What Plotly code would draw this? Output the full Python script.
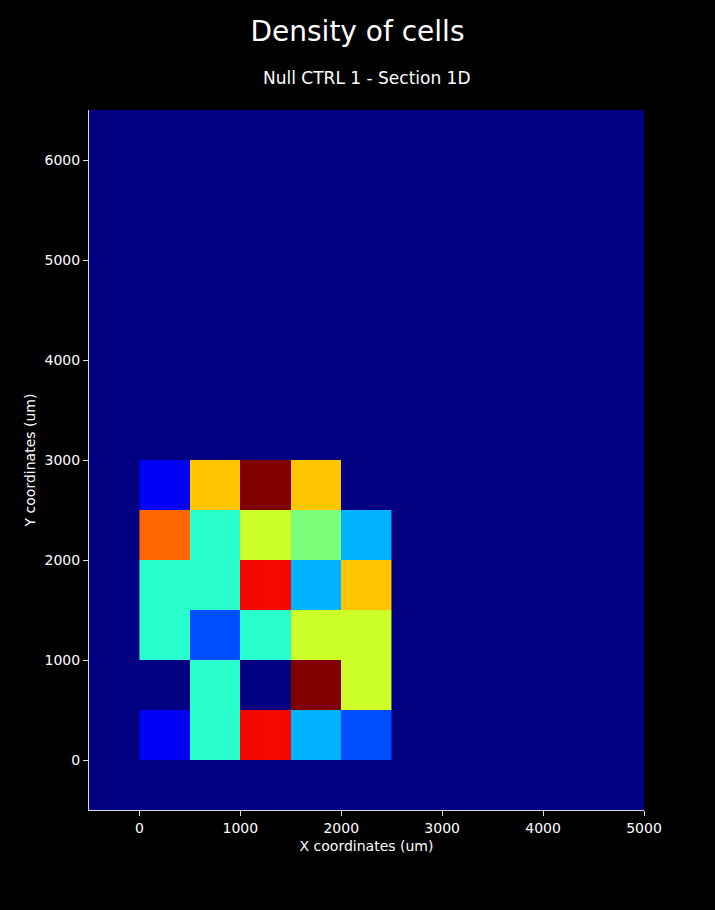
import plotly.graph_objects as go

x_bins = [0, 500, 1000, 1500, 2000]
y_bins = [0, 500, 1000, 1500, 2000, 2500]
bin_size = 500
# counts per bin, rows ordered by y (bottom to top)
counts = [
    [1, 4, 9, 3, 2],
    [0, 4, 0, 10, 6],
    [4, 2, 4, 6, 6],
    [4, 4, 9, 3, 7],
    [8, 4, 6, 5, 3],
    [1, 7, 10, 7, 0],
]

x_centers = [v + bin_size / 2 for v in x_bins]
y_centers = [v + bin_size / 2 for v in y_bins]

# matplotlib "jet"
jet = [
    [0.0, "rgb(0,0,128)"],
    [0.11, "rgb(0,0,255)"],
    [0.125, "rgb(0,0,255)"],
    [0.34, "rgb(0,219,255)"],
    [0.35, "rgb(0,229,246)"],
    [0.375, "rgb(20,255,226)"],
    [0.64, "rgb(238,255,8)"],
    [0.65, "rgb(246,245,0)"],
    [0.66, "rgb(255,236,0)"],
    [0.89, "rgb(255,18,0)"],
    [0.91, "rgb(232,0,0)"],
    [1.0, "rgb(128,0,0)"],
]

fig = go.Figure(
    go.Heatmap(
        x=x_centers,
        y=y_centers,
        z=counts,
        colorscale=jet,
        zmin=0,
        zmax=10,
        showscale=False,
        xgap=0,
        ygap=0,
    )
)

font = "DejaVu Sans, sans-serif"
fig.update_layout(
    width=715,
    height=910,
    paper_bgcolor="black",
    plot_bgcolor="rgb(0,0,128)",
    margin=dict(l=89, r=71, t=110, b=100),
    font=dict(family=font, color="white", size=14),
    title=dict(
        text="Density of cells",
        x=0.5,
        xanchor="center",
        y=1 - 31 / 910,
        yanchor="middle",
        font=dict(size=28, color="white", family=font),
    ),
    annotations=[
        dict(
            text="Null CTRL 1 - Section 1D",
            x=0.5,
            xref="paper",
            y=(810 - 78) / 700,
            yref="paper",
            xanchor="center",
            yanchor="middle",
            showarrow=False,
            font=dict(size=17, color="white", family=font),
        )
    ],
    xaxis=dict(
        range=[-500, 5000],
        tickvals=[0, 1000, 2000, 3000, 4000, 5000],
        showgrid=False,
        zeroline=False,
        showline=True,
        linecolor="rgb(220,220,220)",
        linewidth=1,
        ticks="outside",
        ticklen=5,
        tickcolor="rgb(220,220,220)",
        tickfont=dict(size=14),
        title=dict(text="X coordinates (um)", font=dict(size=14), standoff=6),
    ),
    yaxis=dict(
        range=[-500, 6500],
        tickvals=[0, 1000, 2000, 3000, 4000, 5000, 6000],
        showgrid=False,
        zeroline=False,
        showline=True,
        linecolor="rgb(220,220,220)",
        linewidth=1,
        ticks="outside",
        ticklen=5,
        tickcolor="rgb(220,220,220)",
        tickfont=dict(size=14),
        title=dict(text="Y coordinates (um)", font=dict(size=14), standoff=5),
    ),
)

fig.write_html("out.html")
